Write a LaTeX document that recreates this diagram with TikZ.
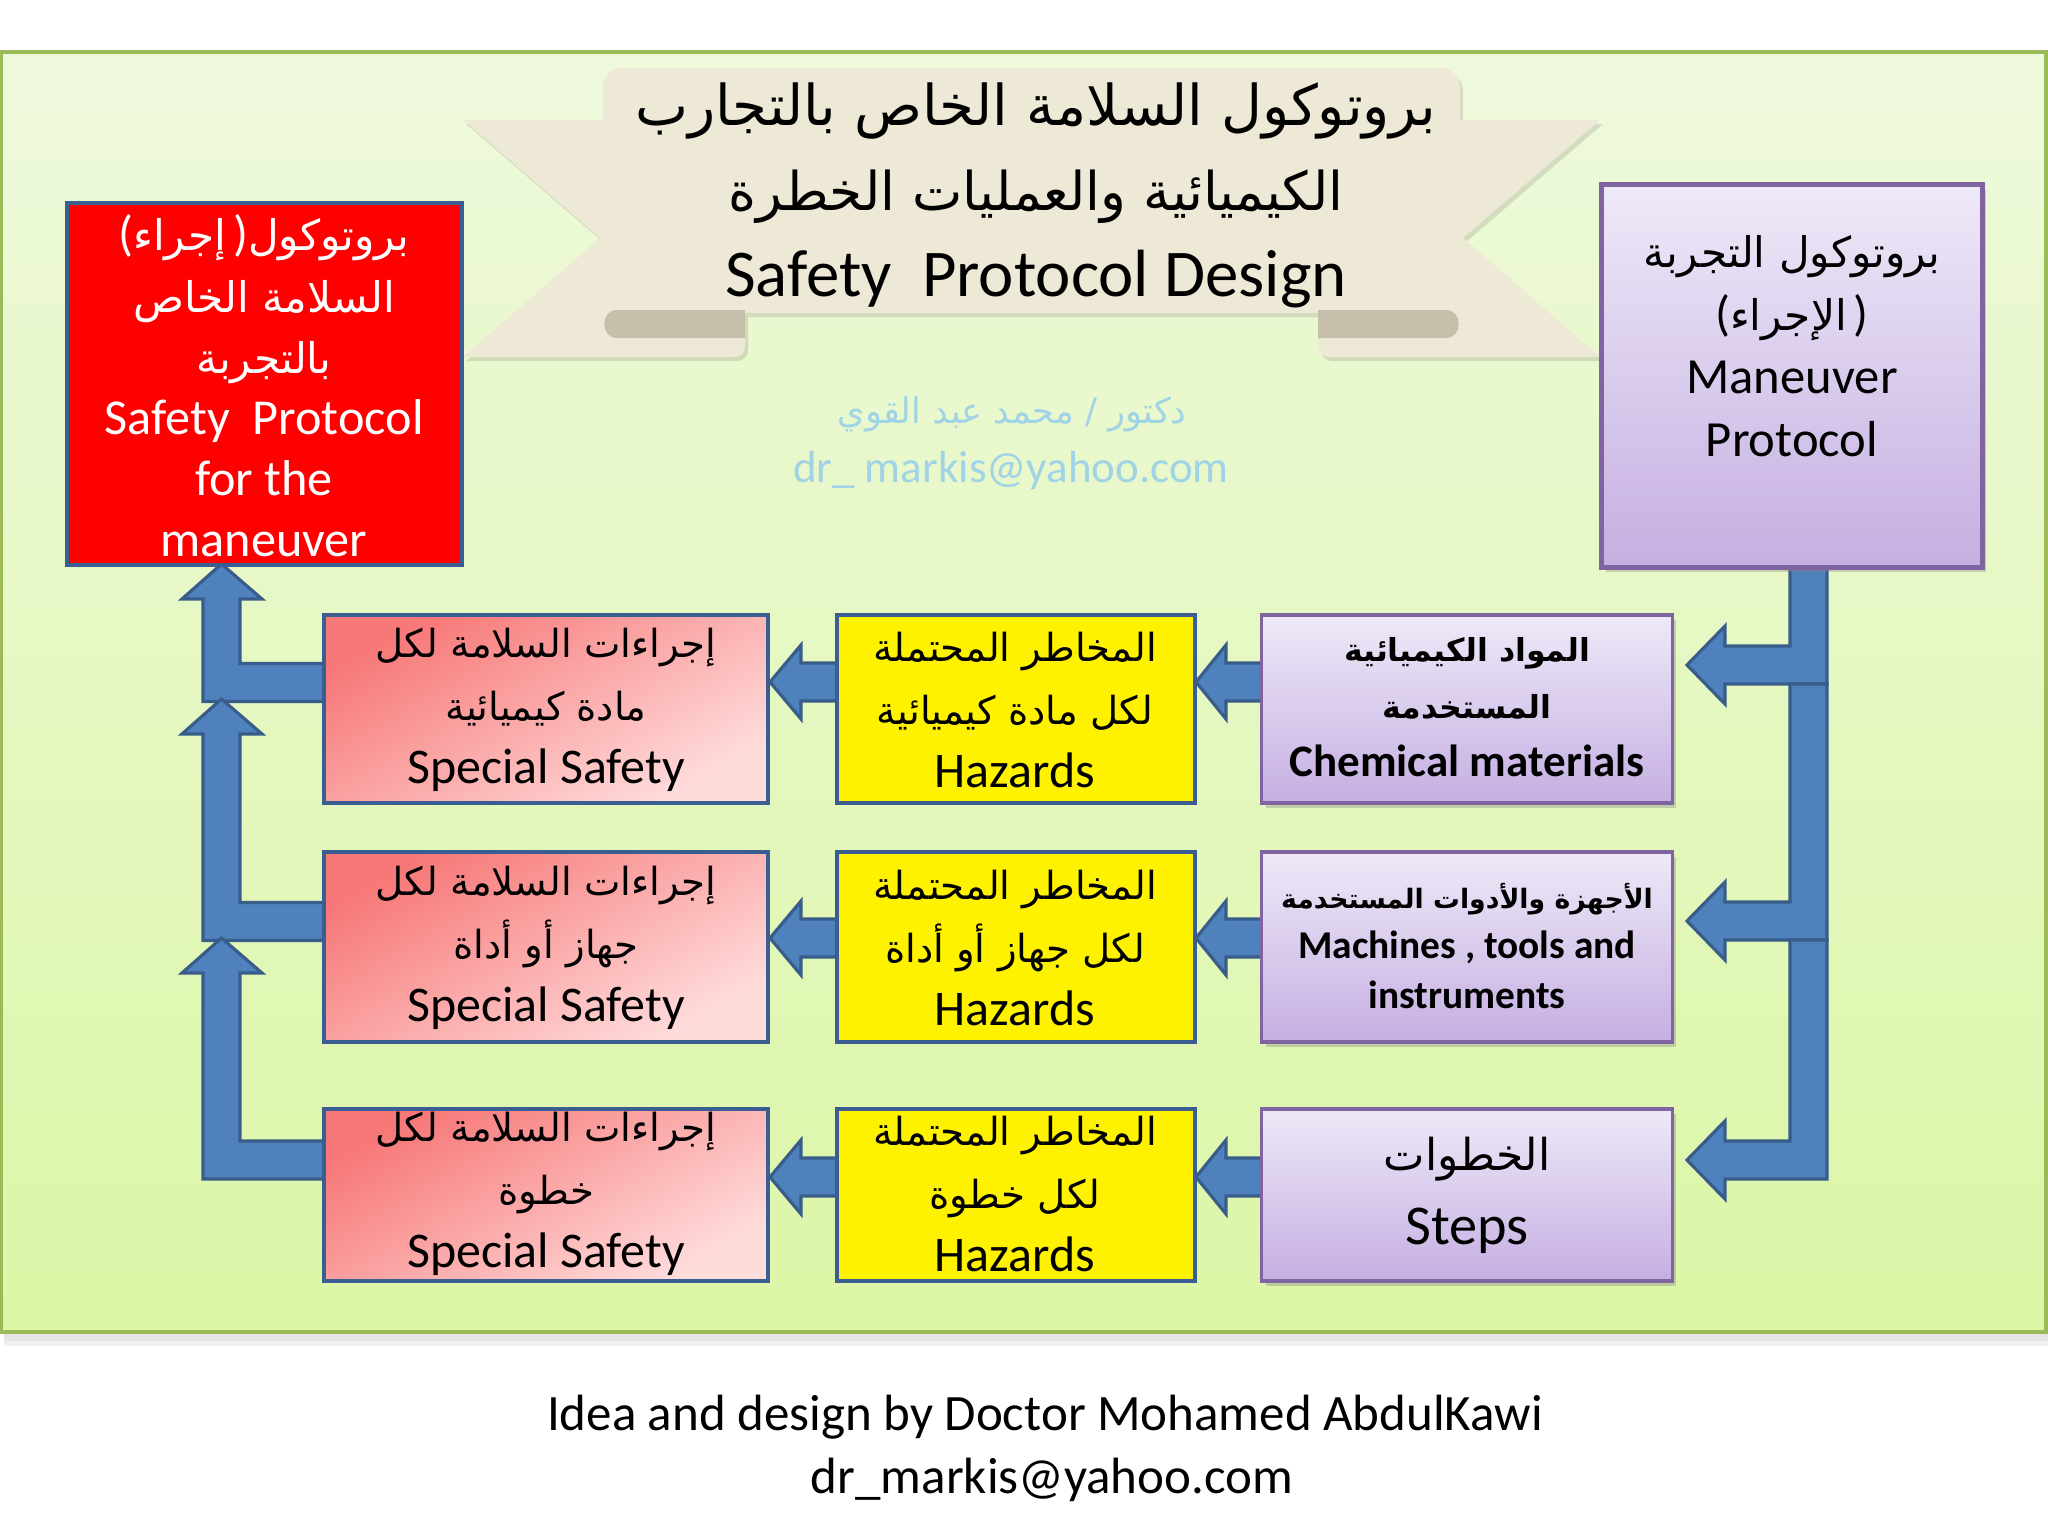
\documentclass[tikz,border=0pt]{standalone}
\usepackage{fontspec}
\setmainfont{Carlito}
\newfontfamily\arabicfont[Script=Arabic]{DejaVu Sans}
\TeXXeTstate=1
\usetikzlibrary{shadows}

\definecolor{arrowfill}{HTML}{4F81BD}
\definecolor{arrowline}{HTML}{385D8A}
\definecolor{boxline}{HTML}{3A5D92}
\definecolor{purpline}{HTML}{8064A2}
\definecolor{purptop}{HTML}{EEE9F8}
\definecolor{purpbot}{HTML}{C5AFE2}
\definecolor{pinktop}{HTML}{F77878}
\definecolor{pinkbot}{HTML}{FFDCDC}
\definecolor{bgtop}{HTML}{EEF9DC}
\definecolor{bgbot}{HTML}{DCF6A6}
\definecolor{panelline}{HTML}{9BBB59}
\definecolor{ribbon}{HTML}{EEE8D6}
\definecolor{ribbondark}{HTML}{C6BFAC}
\definecolor{wmark}{HTML}{A0D3E6}

\newcommand{\arf}[1]{\fontsize{#1}{#1}\arabicfont}
\newcommand{\arfb}[1]{\fontsize{#1}{#1}\arabicfont\bfseries}
\newcommand{\lpar}{{\normalfont\fontsize{14pt}{14pt}\selectfont(}}
\newcommand{\rpar}{{\normalfont\fontsize{14pt}{14pt}\selectfont)}}

% horizontal block arrow pointing left: #1 x of shaft end, #2 x tip, #3 x head base, #4 y centre
\newcommand{\hblock}[4]{\filldraw[blockarrow] (#1,#4-19) -- (#3,#4-19) -- (#3,#4-37) -- (#2,#4) -- (#3,#4+37) -- (#3,#4+19) -- (#1,#4+19) -- cycle;}
% right bent arrow: down then left. #1 top y, #2 y centre of shaft
\newcommand{\rbent}[2]{\filldraw[blockarrow] (1790,#1) -- (1827,#1) -- (1827,#2+19) -- (1725,#2+19) -- (1725,#2+39) -- (1687,#2) -- (1725,#2-39) -- (1725,#2-19) -- (1790,#2-19) -- cycle;}
% left bent arrow: left then up. #1 y centre of shaft, #2 tip y
\newcommand{\lbent}[2]{\filldraw[blockarrow] (328,#1-19) -- (240,#1-19) -- (240,#2+35) -- (262,#2+35) -- (221.5,#2) -- (182,#2+35) -- (203,#2+35) -- (203,#1+19) -- (328,#1+19) -- cycle;}

\tikzset{
  blockarrow/.style={fill=arrowfill, draw=arrowline, line width=0.9pt, line join=miter},
  redrow/.style={draw=boxline, line width=1.1pt, top color=pinktop, bottom color=pinkbot, shading angle=30, minimum width=44.4mm, inner sep=0pt},
  yelrow/.style={draw=boxline, line width=1.1pt, fill=yellow, minimum width=35.8mm, inner sep=0pt},
  purrow/.style={draw=purpline, line width=0.9pt, top color=purptop, bottom color=purpbot, minimum width=41mm, inner sep=0pt, drop shadow={shadow xshift=1.2pt, shadow yshift=-1.4pt, opacity=0.35}},
  txt/.style={align=center, inner sep=0pt, font=\fontsize{14.2pt}{18pt}\selectfont},
}

\begin{document}
\begin{tikzpicture}[x=0.01cm, y=-0.01cm]
\useasboundingbox (0,0) rectangle (2048,1536);
\fill[white] (0,0) rectangle (2048,1536);

% panel
\fill[black, opacity=0.10] (4,1332) rectangle (2048,1341);
\fill[black, opacity=0.06] (4,1341) rectangle (2048,1346);
\shade[top color=bgtop, bottom color=bgbot] (0,52) rectangle (2047,1332);
\draw[panelline, line width=1pt] (1,52) rectangle (2046,1332);

% ribbon shadow
\begin{scope}[shift={(3,4)}, black, opacity=0.11]
\fill (463,120) -- (620,120) -- (620,313) -- (745,313) -- (745,345) .. controls (745,353) and (741,357) .. (733,357) -- (463,357) -- (600,238) -- cycle;
\fill (1600,120) -- (1443,120) -- (1443,313) -- (1318,313) -- (1318,345) .. controls (1318,353) and (1322,357) .. (1330,357) -- (1600,357) -- (1463,238) -- cycle;
\fill[rounded corners=5.5pt] (603,313) -- (603,68) -- (1460,68) -- (1460,313);
\end{scope}
% ribbon
\fill[ribbon] (463,120) -- (620,120) -- (620,313) -- (745,313) -- (745,345) .. controls (745,353) and (741,357) .. (733,357) -- (463,357) -- (600,238) -- cycle;
\fill[ribbon] (1600,120) -- (1443,120) -- (1443,313) -- (1318,313) -- (1318,345) .. controls (1318,353) and (1322,357) .. (1330,357) -- (1600,357) -- (1463,238) -- cycle;
\fill[ribbon, rounded corners=5.5pt] (603,313) -- (603,68) -- (1460,68) -- (1460,313);
\fill[ribbondark] (745,310) -- (617,310) .. controls (600,310) and (600,338) .. (617,338) -- (745,338) -- cycle;
\fill[ribbondark] (1318,310) -- (1446,310) .. controls (1463,310) and (1463,338) .. (1446,338) -- (1318,338) -- cycle;

\node[txt, font=\fontsize{19pt}{24.3pt}\selectfont] (title) at (1036,195)
  {{\arf{16pt}\beginR بروتوكول السلامة الخاص بالتجارب\endR}\\ {\arf{15.2pt}\beginR الكيميائية والعمليات الخطرة\endR}\\ Safety~~Protocol Design};

% watermark
\node[txt, text=wmark, font=\fontsize{12.8pt}{15pt}\selectfont] (wm1) at (1012,414) {{\arf{10pt}\beginR دكتور / محمد عبد القوي\endR}};
\node[txt, text=wmark, font=\fontsize{12.8pt}{15pt}\selectfont] (wm2) at (1011,470) {dr\_ markis@yahoo.com};

% arrows
\lbent{682.5}{564}
\lbent{921.5}{699}
\lbent{1160}{938}
\rbent{564}{665}
\rbent{684}{921}
\rbent{940}{1160}
\hblock{840}{770}{801}{682}
\hblock{840}{770}{801}{938}
\hblock{840}{770}{801}{1177}
\hblock{1265}{1196}{1226}{682}
\hblock{1265}{1196}{1226}{938}
\hblock{1265}{1196}{1226}{1177}

% top boxes
\node[draw=boxline, line width=1.1pt, fill=red, minimum width=39.5mm, minimum height=36.2mm, inner sep=0pt] (rt) at (264.5,384) {};
\node[draw=purpline, line width=1.4pt, top color=purptop, bottom color=purpbot, minimum width=38mm, minimum height=38.2mm, inner sep=0pt, drop shadow={shadow xshift=1.2pt, shadow yshift=-1.4pt, opacity=0.35}] (pt) at (1792,376) {};

\node[txt, text=white, font=\fontsize{14.3pt}{17.4pt}\selectfont] (rtt) at (264,386)
  {{\arf{12pt}\lpar\beginR إجراء\endR\,\rpar\beginR بروتوكول\endR}\\ {\arf{12pt}\beginR السلامة الخاص\endR}\\ {\arf{12pt}\beginR بالتجربة\endR}\\ Safety~~Protocol\\ for the\\ maneuver};
\node[txt, font=\fontsize{14.4pt}{17.9pt}\selectfont] (ptt) at (1792,346)
  {{\arf{12pt}\beginR بروتوكول التجربة\endR}\\ {\arf{12pt}\lpar\beginR الإجراء\endR\,\rpar}\\ Maneuver\\ Protocol};

% row boxes
\node[redrow, minimum height=18.8mm] (s1) at (546,709) {};
\node[redrow, minimum height=19mm] (s2) at (546,947) {};
\node[redrow, minimum height=17.2mm] (s3) at (546,1195) {};
\node[yelrow, minimum height=18.8mm] (h1) at (1016,709) {};
\node[yelrow, minimum height=19mm] (h2) at (1016,947) {};
\node[yelrow, minimum height=17.2mm] (h3) at (1016,1195) {};
\node[purrow, minimum height=18.8mm] (m1) at (1467,709) {};
\node[purrow, minimum height=19mm] (m2) at (1467,947) {};
\node[purrow, minimum height=17.2mm] (m3) at (1467,1195) {};

% row texts
\node[txt] (s1t) at (546,710) {{\arf{11pt}\beginR إجراءات السلامة لكل\endR}\\ {\arf{11pt}\beginR مادة كيميائية\endR}\\ Special Safety};
\node[txt] (s2t) at (546,948) {{\arf{11pt}\beginR إجراءات السلامة لكل\endR}\\ {\arf{11pt}\beginR جهاز أو أداة\endR}\\ Special Safety};
\node[txt] (s3t) at (546,1194) {{\arf{11pt}\beginR إجراءات السلامة لكل\endR}\\ {\arf{11pt}\beginR خطوة\endR}\\ Special Safety};
\node[txt] (h1t) at (1015,710) {{\arf{11pt}\beginR المخاطر المحتملة\endR}\\ {\arf{11pt}\beginR لكل مادة كيميائية\endR}\\ Hazards};
\node[txt] (h2t) at (1015,948) {{\arf{11pt}\beginR المخاطر المحتملة\endR}\\ {\arf{11pt}\beginR لكل جهاز أو أداة\endR}\\ Hazards};
\node[txt] (h3t) at (1015,1194) {{\arf{11pt}\beginR المخاطر المحتملة\endR}\\ {\arf{11pt}\beginR لكل خطوة\endR}\\ Hazards};
\node[txt, font=\fontsize{12.8pt}{16.4pt}\selectfont] (m1t) at (1467,707) {{\arfb{9pt}\beginR المواد الكيميائية\endR}\\ {\arfb{9pt}\beginR المستخدمة\endR}\\ \textbf{Chemical materials}};
\node[txt, font=\fontsize{11.2pt}{14.2pt}\selectfont] (m2t) at (1467,946) {{\arfb{7.6pt}\beginR الأجهزة والأدوات المستخدمة\endR}\\ \textbf{Machines , tools and}\\ \textbf{instruments}};
\node[txt, font=\fontsize{16pt}{21pt}\selectfont] (m3t) at (1467,1195) {{\arf{12.5pt}\beginR الخطوات\endR}\\ Steps};

% footer
\node[txt, font=\fontsize{14.5pt}{17.6pt}\selectfont] (foot1) at (1045,1417) {Idea and design by Doctor Mohamed AbdulKawi};
\node[txt, font=\fontsize{14.5pt}{17.6pt}\selectfont] (foot2) at (1052,1480) {dr\_markis@yahoo.com};
\end{tikzpicture}
\end{document}
